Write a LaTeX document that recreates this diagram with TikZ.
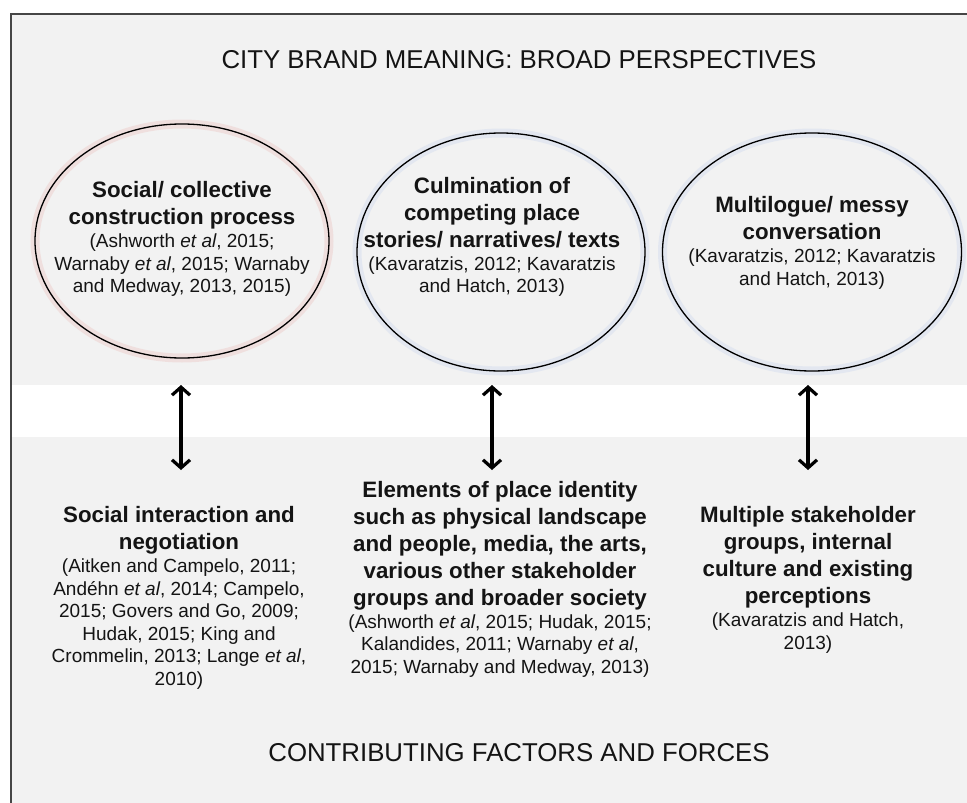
\documentclass[tikz,border=0pt]{standalone}
\usepackage{fontspec}
\setmainfont{Liberation Sans}
\usetikzlibrary{arrows.meta,shapes.geometric}
\definecolor{bgray}{RGB}{242,242,242}
\definecolor{framec}{RGB}{70,70,70}
\definecolor{textc}{RGB}{20,20,20}
\definecolor{glowpink}{RGB}{236,190,185}
\definecolor{glowblue}{RGB}{200,212,238}
\newcommand\boldline[1]{{\bfseries\fontsize{22.3}{27}\selectfont #1}}
\begin{document}
\begin{tikzpicture}[x=1pt,y=-1pt,
  band/.style={fill=bgray,draw=none},
  ell/.style={ellipse,draw=black,line width=1.3pt,inner sep=0pt},
  glow/.style={ellipse,draw=#1,line width=9pt,draw opacity=0.35,inner sep=0pt},
  blk/.style={align=center,inner sep=0pt,text=textc,font=\fontsize{19}{22.5}\selectfont},
  ttl/.style={inner sep=0pt,text=textc,font=\fontsize{25.8}{30}\selectfont},
  dbl/.style={{Straight Barb[length=8pt,width=18pt,line width=3.2pt]}-{Straight Barb[length=8pt,width=18pt,line width=3.2pt]},line width=3.4pt,draw=black}
]
\useasboundingbox (0,0) rectangle (967,803);
% backgrounds
\fill[white] (0,0) rectangle (967,803);
\fill[band] (11,14) rectangle (967,385);
\fill[band] (11,437) rectangle (967,803);
% frame
\draw[framec,line width=2pt] (11,803) -- (11,14) -- (967,14);

% titles
\node[ttl] (top) at (519,60) {CITY BRAND MEANING: BROAD PERSPECTIVES};
\node[ttl] (bottom) at (519,753) {CONTRIBUTING FACTORS AND FORCES};

% ellipses
\node[glow=glowpink,minimum width=294pt,minimum height=234pt] (g1) at (182,241) {};
\node[glow=glowblue,minimum width=288pt,minimum height=238pt] (g2) at (501,252) {};
\node[glow=glowblue,minimum width=299pt,minimum height=238pt] (g3) at (812,252) {};
\node[ell,minimum width=294pt,minimum height=234pt] (c1) at (182,241) {};
\node[ell,minimum width=288pt,minimum height=238pt] (c2) at (501,252) {};
\node[ell,minimum width=299pt,minimum height=238pt] (c3) at (812,252) {};

% ellipse texts
\node[blk] (t1) at (182,239) {\boldline{Social/ collective}\\[4.5pt]
  \boldline{construction process}\\[0.5pt]
  (Ashworth \textit{et al}, 2015;\\
  Warnaby \textit{et al}, 2015; Warnaby\\
  and Medway, 2013, 2015)};
\node[blk] (t2) at (492,237) {\boldline{Culmination of}\\[4.5pt]
  \boldline{competing place}\\[4.5pt]
  \boldline{stories/ narratives/ texts}\\[0.5pt]
  (Kavaratzis, 2012; Kavaratzis\\
  and Hatch, 2013)};
\node[blk] (t3) at (812,243) {\boldline{Multilogue/ messy}\\[4.5pt]
  \boldline{conversation}\\[0.5pt]
  (Kavaratzis, 2012; Kavaratzis\\
  and Hatch, 2013)};

% lower texts
\node[blk] (b1) at (179,598) {\boldline{Social interaction and}\\[4.5pt]
  \boldline{negotiation}\\[0.5pt]
  (Aitken and Campelo, 2011;\\
  Andéhn \textit{et al}, 2014; Campelo,\\
  2015; Govers and Go, 2009;\\
  Hudak, 2015; King and\\
  Crommelin, 2013; Lange \textit{et al},\\
  2010)};
\node[blk] (b2) at (500,579) {\boldline{Elements of place identity}\\[4.5pt]
  \boldline{such as physical landscape}\\[4.5pt]
  \boldline{and people, media, the arts,}\\[4.5pt]
  \boldline{various other stakeholder}\\[4.5pt]
  \boldline{groups and broader society}\\[0.5pt]
  (Ashworth \textit{et al}, 2015; Hudak, 2015;\\
  Kalandides, 2011; Warnaby \textit{et al},\\
  2015; Warnaby and Medway, 2013)};
\node[blk] (b3) at (808,580) {\boldline{Multiple stakeholder}\\[4.5pt]
  \boldline{groups, internal}\\[4.5pt]
  \boldline{culture and existing}\\[4.5pt]
  \boldline{perceptions}\\[0.5pt]
  (Kavaratzis and Hatch,\\
  2013)};

% arrows
\coordinate (a1t) at (181,385); \coordinate (a1b) at (181,470);
\coordinate (a2t) at (492,385); \coordinate (a2b) at (492,470);
\coordinate (a3t) at (808,385); \coordinate (a3b) at (808,470);
\draw[dbl] (a1t) -- (a1b);
\draw[dbl] (a2t) -- (a2b);
\draw[dbl] (a3t) -- (a3b);
\end{tikzpicture}
\end{document}
